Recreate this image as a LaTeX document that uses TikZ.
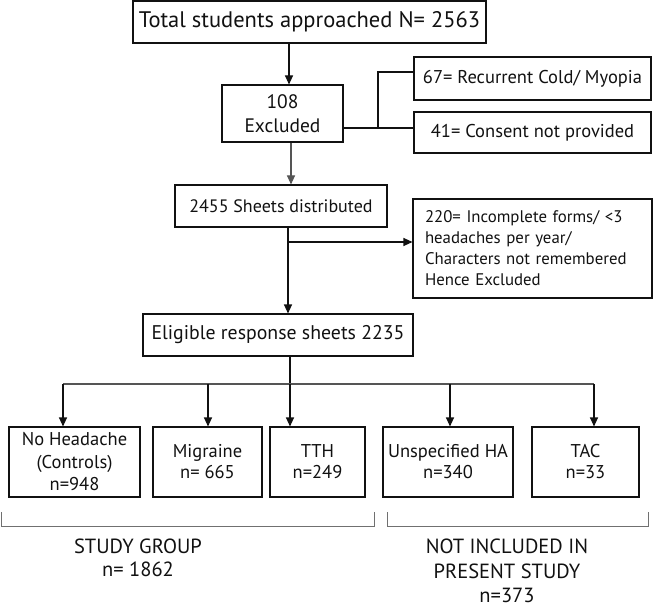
\documentclass[tikz,border=0pt]{standalone}
\usepackage{fontspec}
\setmainfont{PT Sans}
\usepackage{xcolor}
\usepackage{tikz}
\usetikzlibrary{arrows.meta}
\definecolor{ink}{HTML}{111111}
\definecolor{stem}{HTML}{555555}
\definecolor{brack}{HTML}{707070}
\tikzset{
  box/.style={draw=ink, line width=1.1pt, inner sep=0pt, align=center, text=ink},
  link/.style={draw=ink, line width=1.1pt},
  arr/.style={link, -{Triangle[length=9pt,width=8pt]}},
  brack/.style={draw=brack, line width=1pt},
  lab/.style={text=ink, align=center, font=\fontsize{20.5}{22.5}\selectfont}
}

\begin{document}
\begin{tikzpicture}[x=1pt, y=-1pt]
  \useasboundingbox (0,0) rectangle (655,609);

  % top part
  \node[box, minimum width=353pt, minimum height=42pt, font=\fontsize{22.5}{24}\selectfont]
    (total) at (309.5,22) {Total students approached N= 2563};
  \node[box, minimum width=121pt, minimum height=57pt, font=\fontsize{19.5}{24}\selectfont]
    (excl) at (282.5,113.5) {108\\Excluded};
  \node[box, minimum width=237pt, minimum height=43pt, font=\fontsize{18.5}{20}\selectfont]
    (cold) at (532.5,78.5) {67= Recurrent Cold/ Myopia};
  \node[box, minimum width=237pt, minimum height=41pt, font=\fontsize{18.5}{20}\selectfont]
    (consent) at (532.5,132.5) {41= Consent not provided};
  \node[box, minimum width=212pt, minimum height=42pt, font=\fontsize{18}{20}\selectfont]
    (sheets) at (281,206) {2455 Sheets distributed};
  \node[box, align=left, inner xsep=12pt, text width=215pt, minimum height=99pt,
    font=\fontsize{16.8}{21}\selectfont]
    (incomplete) at (532.5,248.5) {220= Incomplete forms/ <3\\headaches per year/\\Characters not remembered\\Hence Excluded};
  \node[box, minimum width=270pt, minimum height=42pt, font=\fontsize{19.8}{22}\selectfont]
    (eligible) at (278,335) {Eligible response sheets 2235};

  % groups
  \node[box, minimum width=131pt, minimum height=70pt, font=\fontsize{18.5}{22.5}\selectfont]
    (nohead) at (74.5,462) {No Headache\\(Controls)\\n=948};
  \node[box, minimum width=109pt, minimum height=70pt, font=\fontsize{18.5}{21}\selectfont]
    (migraine) at (207.5,462) {Migraine\\n= 665};
  \node[box, minimum width=95pt, minimum height=70pt, font=\fontsize{18.5}{21}\selectfont]
    (tth) at (317.5,462) {TTH\\n=249};
  \node[box, minimum width=130pt, minimum height=70pt, font=\fontsize{18.5}{21}\selectfont]
    (unspec) at (448,462) {Unspecified HA\\n=340};
  \node[box, minimum width=107pt, minimum height=70pt, font=\fontsize{18.5}{21}\selectfont]
    (tac) at (585.5,462) {TAC\\n=33};

  \coordinate (fork) at (378,128);
  \coordinate (forktop) at (378,72);
  \coordinate (side) at (288,242);
  \coordinate (bus) at (290,384);

  \draw[arr] (total.south -| 289,0) -- (excl.north -| 289,0);
  \draw[link] (excl.east |- fork) -- (consent.west |- fork);
  \draw[link] (fork) -- (forktop) -- (cold.west |- forktop);
  \draw[arr, draw=stem] (excl.south -| 291,0) -- (sheets.north -| 291,0);
  \draw[arr] (sheets.south -| side) -- (eligible.north -| side);
  \draw[arr] (side) -- (incomplete.west |- side);

  \draw[link] (eligible.south -| bus) -- (bus);
  \draw[link, draw=stem] (63,384) -- (594,384);
  \foreach \g/\x in {nohead/63, migraine/208, tth/290, unspec/450, tac/594}
    \draw[arr] (\x,384) -- (\g.north -| \x,0);

  % brackets
  \draw[brack] (1,512) -- (1,526) -- (374,526) -- (374,512);
  \draw[brack] (387,512) -- (387,526) -- (648,526) -- (648,512);
  \node[lab] (studylab) at (138,558) {STUDY GROUP\\n= 1862};
  \node[lab, font=\fontsize{20.5}{24.5}\selectfont] (notinclab) at (507,571) {NOT INCLUDED IN\\PRESENT STUDY\\n=373};
\end{tikzpicture}
\end{document}
